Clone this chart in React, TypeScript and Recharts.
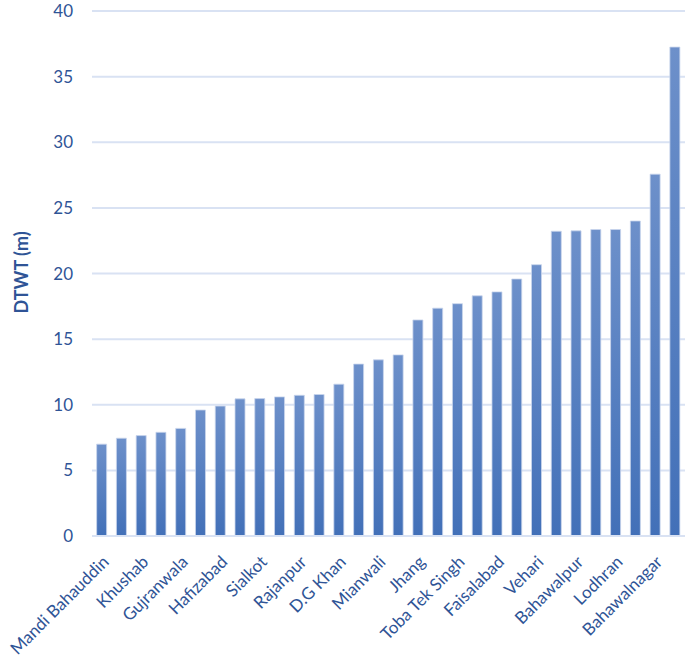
import { BarChart, Bar, XAxis, YAxis, CartesianGrid } from "recharts";

const districts = [
  "Mandi Bahauddin", "Gujrat", "Khushab", "Sargodha", "Gujranwala", "Narowal",
  "Hafizabad", "Sheikhupura", "Sialkot", "Muzaffargarh", "Rajanpur", "Layyah",
  "D.G Khan", "Bhakkar", "Mianwali", "Chiniot", "Jhang", "Nankana Sahib",
  "Toba Tek Singh", "Kasur", "Faisalabad", "Khanewal", "Vehari", "Multan",
  "Bahawalpur", "Okara", "Lodhran", "Sahiwal", "Bahawalnagar", "Pakpattan",
];
const dtwt = [
  7.0, 7.45, 7.65, 7.9, 8.2, 9.6, 9.9, 10.45, 10.47, 10.6, 10.72, 10.78,
  11.57, 13.1, 13.42, 13.8, 16.46, 17.36, 17.7, 18.3, 18.6, 19.58, 20.67,
  23.22, 23.25, 23.35, 23.35, 24.0, 27.57, 37.25,
];
const yTicks = [0, 5, 10, 15, 20, 25, 30, 35, 40];

const data = districts.map((name, i) => ({ name, dtwt: dtwt[i] }));

const FONT = "Lato, 'Open Sans', sans-serif";
const TEXT = "#2F5496";

function RotatedTick({ x, y, payload }: any) {
  return (
    <g transform={`translate(${x + 8},${y + 25})`}>
      <text transform="rotate(-45)" textAnchor="end" fill={TEXT} fontSize={17} fontFamily={FONT}>
        {payload.value}
      </text>
    </g>
  );
}

export default function App() {
  return (
    <div style={{ position: "absolute", left: 0, top: 0, background: "#fff" }}>
      <BarChart
        width={685}
        height={660}
        data={data}
        margin={{ top: 11, right: 0, left: 0, bottom: 0 }}
        barCategoryGap="23.5%"
      >
        <defs>
          <linearGradient id="barFill" x1="0" y1="0" x2="0" y2="1">
            <stop offset="0%" stopColor="#6D90CA" />
            <stop offset="100%" stopColor="#4270B8" />
          </linearGradient>
        </defs>
        <CartesianGrid vertical={false} stroke="#D9E2F3" strokeWidth={2} />
        <XAxis
          dataKey="name"
          interval={1}
          height={124}
          tickLine={false}
          tickSize={0}
          axisLine={{ stroke: "#D9E2F3", strokeWidth: 2 }}
          tick={<RotatedTick />}
        />
        <YAxis
          width={92}
          domain={[0, 40]}
          ticks={yTicks}
          tickLine={false}
          axisLine={false}
          tickMargin={13}
          tick={{ fill: TEXT, fontSize: 17, fontFamily: FONT }}
          label={{
            value: "DTWT (m)",
            angle: -90,
            position: "insideLeft",
            dx: 17,
            dy: 40,
            style: { fill: TEXT, fontSize: 18, fontWeight: 700, fontFamily: FONT },
          }}
        />
        <Bar dataKey="dtwt" fill="url(#barFill)" stroke="#C9D6EC" strokeWidth={0.8} isAnimationActive={false} />
      </BarChart>
    </div>
  );
}
